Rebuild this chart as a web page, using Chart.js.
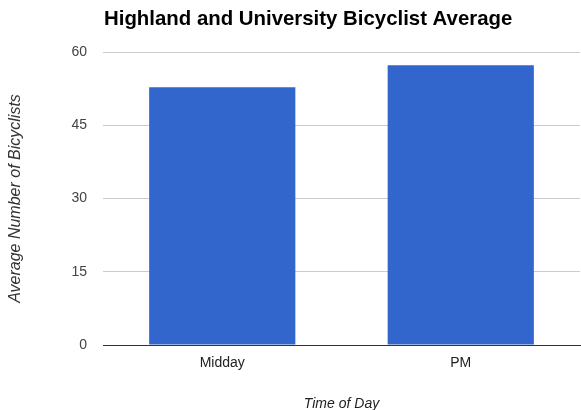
<!DOCTYPE html>
<html><head><meta charset="utf-8">
<script src="https://cdn.jsdelivr.net/npm/chart.js@4.4.1/dist/chart.umd.min.js"></script>
<style>html,body{margin:0;padding:0;background:#fff}</style>
</head><body>
<canvas id="c" width="581" height="410"></canvas>
<script>
const categories = ['Midday', 'PM'];
const bicyclistAverage = [52.8, 57.3];
const yTickValues = [0, 15, 30, 45, 60];
const chartTitle = 'Highland and University Bicyclist Average';
const xAxisTitle = 'Time of Day';
const yAxisTitle = 'Average Number of Bicyclists';

const FONT = '"Liberation Sans", Arial, sans-serif';

const titlePlugin = {
  id: 'leftTitle',
  afterDraw(chart) {
    const ctx = chart.ctx;
    ctx.save();
    ctx.font = 'bold 20.4px ' + FONT;
    ctx.fillStyle = '#000';
    ctx.textAlign = 'left';
    ctx.textBaseline = 'alphabetic';
    ctx.fillText(chartTitle, chart.chartArea.left + 1, 25);
    ctx.restore();
  }
};

new Chart(document.getElementById('c'), {
  type: 'bar',
  data: {
    labels: categories,
    datasets: [{
      data: bicyclistAverage,
      backgroundColor: '#3366CC',
      borderWidth: 0,
      categoryPercentage: 1,
      barPercentage: 0.613
    }]
  },
  options: {
    responsive: false,
    animation: false,
    layout: { padding: { top: 52, right: 1, left: 0, bottom: 0 } },
    plugins: { legend: { display: false }, tooltip: { enabled: false }, title: { display: false } },
    scales: {
      x: {
        afterFit(s) { s.height = 65; },
        grid: { display: false, drawTicks: false },
        border: { display: true, color: '#333', width: 1 },
        ticks: { padding: 10, color: '#222', font: { family: FONT, size: 14 } },
        title: { display: true, text: xAxisTitle, color: '#222', padding: { top: 0, bottom: -3 },
                 font: { family: FONT, size: 14, style: 'italic', lineHeight: 1.2 } }
      },
      y: {
        min: 0, max: 60,
        afterFit(s) { s.width = 103; },
        afterBuildTicks(s) { s.ticks = yTickValues.map(v => ({ value: v })); },
        grid: { color: '#cccccc', drawTicks: false },
        border: { display: false },
        ticks: { padding: 16, color: '#444', font: { family: FONT, size: 14 } },
        title: { display: true, text: yAxisTitle, color: '#333', padding: { top: 6, bottom: 0 },
                 font: { family: FONT, size: 16, style: 'italic', lineHeight: 1.2 } }
      }
    }
  },
  plugins: [titlePlugin]
});
</script>
</body></html>
